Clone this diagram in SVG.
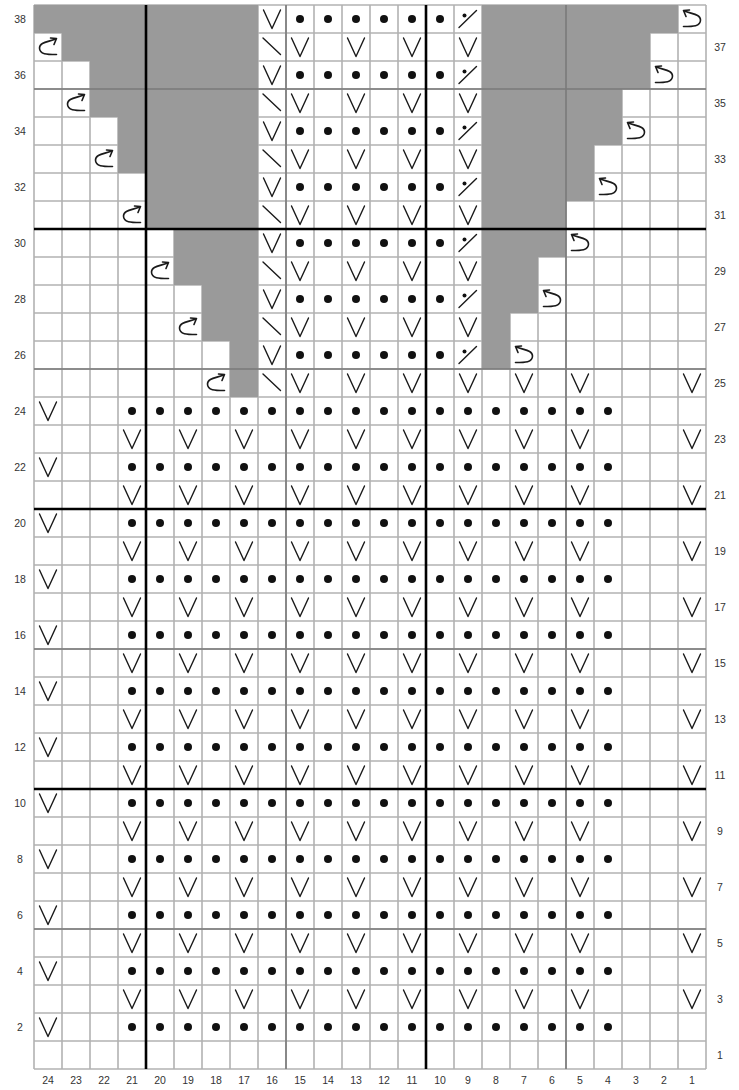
<svg xmlns="http://www.w3.org/2000/svg" xmlns:xlink="http://www.w3.org/1999/xlink" width="739" height="1090" viewBox="0 0 739 1090">
<style>
.s{fill:none;stroke:#1a1a1a;stroke-width:1.4;stroke-linecap:round;stroke-linejoin:round}
.a{fill:none;stroke:#1a1a1a;stroke-width:1.6;stroke-linecap:round;stroke-linejoin:round}
.f{fill:#111}
.thin{fill:none;stroke:#b2b2b2;stroke-width:1.6}
.five{fill:none;stroke:#7a7a7a;stroke-width:1.6}
.ten{fill:none;stroke:#000;stroke-width:2.6}
.gray{fill:#9a9a9a}
.lbl{font-family:"Liberation Sans",Arial,sans-serif;font-size:10.5px;fill:#333;text-anchor:middle}
</style>
<defs>
<path id="v" class="s" d="M5.5 5L14 23.5L22.5 5"/>
<circle id="dot" class="f" cx="14" cy="14" r="4"/>
<path id="bk" class="s" d="M5 5L22.5 21.5"/>
<g id="sd"><path class="s" d="M5 22.5L22.5 5.5"/><circle class="f" cx="10.5" cy="10.5" r="2"/></g>
<path id="cw" class="a" d="M22.5 5.5C16 9 5.5 8.5 5.5 15C5.5 21.5 13 21.5 22.5 21.5M16.5 5L22.5 5.5L20 11.5"/>
<g id="ccw"><use href="#cw" transform="matrix(-1 0 0 1 28 0)"/></g>
<g id="rowBE">
<use href="#v" x="34"/>
<use href="#dot" x="118"/><use href="#dot" x="146"/><use href="#dot" x="174"/><use href="#dot" x="202"/><use href="#dot" x="230"/><use href="#dot" x="258"/><use href="#dot" x="286"/><use href="#dot" x="314"/><use href="#dot" x="342"/><use href="#dot" x="370"/><use href="#dot" x="398"/><use href="#dot" x="426"/><use href="#dot" x="454"/><use href="#dot" x="482"/><use href="#dot" x="510"/><use href="#dot" x="538"/><use href="#dot" x="566"/><use href="#dot" x="594"/>
</g>
<g id="rowBO">
<use href="#v" x="118"/><use href="#v" x="174"/><use href="#v" x="230"/><use href="#v" x="286"/><use href="#v" x="342"/><use href="#v" x="398"/><use href="#v" x="454"/><use href="#v" x="510"/><use href="#v" x="566"/><use href="#v" x="678"/>
</g>
<g id="rowTE">
<use href="#v" x="258"/>
<use href="#dot" x="286"/><use href="#dot" x="314"/><use href="#dot" x="342"/><use href="#dot" x="370"/><use href="#dot" x="398"/><use href="#dot" x="426"/>
<use href="#sd" x="454"/>
</g>
<g id="rowTO">
<use href="#bk" x="258"/>
<use href="#v" x="286"/><use href="#v" x="342"/><use href="#v" x="398"/><use href="#v" x="454"/>
</g>
</defs>
<rect x="0" y="0" width="739" height="1090" fill="#fff"/>
<g id="grid-thin">
<path class="thin" d="M34 5V1069M62 5V1069M90 5V1069M118 5V1069M146 5V1069M174 5V1069M202 5V1069M230 5V1069M258 5V1069M286 5V1069M314 5V1069M342 5V1069M370 5V1069M398 5V1069M426 5V1069M454 5V1069M482 5V1069M510 5V1069M538 5V1069M566 5V1069M594 5V1069M622 5V1069M650 5V1069M678 5V1069M706 5V1069M34 5H706M34 33H706M34 61H706M34 89H706M34 117H706M34 145H706M34 173H706M34 201H706M34 229H706M34 257H706M34 285H706M34 313H706M34 341H706M34 369H706M34 397H706M34 425H706M34 453H706M34 481H706M34 509H706M34 537H706M34 565H706M34 593H706M34 621H706M34 649H706M34 677H706M34 705H706M34 733H706M34 761H706M34 789H706M34 817H706M34 845H706M34 873H706M34 901H706M34 929H706M34 957H706M34 985H706M34 1013H706M34 1041H706M34 1069H706"/>
</g>
<g id="no-stitch">
<polygon class="gray" points="34,5 258,5 258,397 230,397 230,341 202,341 202,285 174,285 174,229 146,229 146,173 118,173 118,117 90,117 90,61 62,61 62,33 34,33"/>
<polygon class="gray" points="482,5 678,5 678,33 650,33 650,89 622,89 622,145 594,145 594,201 566,201 566,257 538,257 538,313 510,313 510,369 482,369"/>
</g>
<g id="grid-major">
<path class="five" d="M286 5V1069M566 5V1069M34 89H706M34 369H706M34 649H706M34 929H706"/>
<path class="ten" d="M146 5V1069M426 5V1069M34 229H706M34 509H706M34 789H706"/>
</g>
<g id="stitches">
<use href="#rowTE" y="5"/><use href="#rowTE" y="61"/><use href="#rowTE" y="117"/><use href="#rowTE" y="173"/><use href="#rowTE" y="229"/><use href="#rowTE" y="285"/><use href="#rowTE" y="341"/>
<use href="#rowTO" y="33"/><use href="#rowTO" y="89"/><use href="#rowTO" y="145"/><use href="#rowTO" y="201"/><use href="#rowTO" y="257"/><use href="#rowTO" y="313"/><use href="#rowTO" y="369"/>
<use href="#v" x="510" y="369"/><use href="#v" x="566" y="369"/><use href="#v" x="678" y="369"/>
<use href="#rowBE" y="397"/><use href="#rowBE" y="453"/><use href="#rowBE" y="509"/><use href="#rowBE" y="565"/><use href="#rowBE" y="621"/><use href="#rowBE" y="677"/><use href="#rowBE" y="733"/><use href="#rowBE" y="789"/><use href="#rowBE" y="845"/><use href="#rowBE" y="901"/><use href="#rowBE" y="957"/><use href="#rowBE" y="1013"/>
<use href="#rowBO" y="425"/><use href="#rowBO" y="481"/><use href="#rowBO" y="537"/><use href="#rowBO" y="593"/><use href="#rowBO" y="649"/><use href="#rowBO" y="705"/><use href="#rowBO" y="761"/><use href="#rowBO" y="817"/><use href="#rowBO" y="873"/><use href="#rowBO" y="929"/><use href="#rowBO" y="985"/>
<use href="#cw" x="34" y="33"/><use href="#cw" x="62" y="89"/><use href="#cw" x="90" y="145"/><use href="#cw" x="118" y="201"/><use href="#cw" x="146" y="257"/><use href="#cw" x="174" y="313"/><use href="#cw" x="202" y="369"/>
<use href="#ccw" x="678" y="5"/><use href="#ccw" x="650" y="61"/><use href="#ccw" x="622" y="117"/><use href="#ccw" x="594" y="173"/><use href="#ccw" x="566" y="229"/><use href="#ccw" x="538" y="285"/><use href="#ccw" x="510" y="341"/>
</g>
<g id="row-labels-left" class="lbl">
<text x="20" y="22.5">38</text><text x="20" y="78.5">36</text><text x="20" y="134.5">34</text><text x="20" y="190.5">32</text><text x="20" y="246.5">30</text><text x="20" y="302.5">28</text><text x="20" y="358.5">26</text><text x="20" y="414.5">24</text><text x="20" y="470.5">22</text><text x="20" y="526.5">20</text><text x="20" y="582.5">18</text><text x="20" y="638.5">16</text><text x="20" y="694.5">14</text><text x="20" y="750.5">12</text><text x="20" y="806.5">10</text><text x="20" y="862.5">8</text><text x="20" y="918.5">6</text><text x="20" y="974.5">4</text><text x="20" y="1030.5">2</text>
</g>
<g id="row-labels-right" class="lbl">
<text x="720" y="50.5">37</text><text x="720" y="106.5">35</text><text x="720" y="162.5">33</text><text x="720" y="218.5">31</text><text x="720" y="274.5">29</text><text x="720" y="330.5">27</text><text x="720" y="386.5">25</text><text x="720" y="442.5">23</text><text x="720" y="498.5">21</text><text x="720" y="554.5">19</text><text x="720" y="610.5">17</text><text x="720" y="666.5">15</text><text x="720" y="722.5">13</text><text x="720" y="778.5">11</text><text x="720" y="834.5">9</text><text x="720" y="890.5">7</text><text x="720" y="946.5">5</text><text x="720" y="1002.5">3</text><text x="720" y="1058.5">1</text>
</g>
<g id="col-labels" class="lbl">
<text x="48" y="1084">24</text><text x="76" y="1084">23</text><text x="104" y="1084">22</text><text x="132" y="1084">21</text><text x="160" y="1084">20</text><text x="188" y="1084">19</text><text x="216" y="1084">18</text><text x="244" y="1084">17</text><text x="272" y="1084">16</text><text x="300" y="1084">15</text><text x="328" y="1084">14</text><text x="356" y="1084">13</text><text x="384" y="1084">12</text><text x="412" y="1084">11</text><text x="440" y="1084">10</text><text x="468" y="1084">9</text><text x="496" y="1084">8</text><text x="524" y="1084">7</text><text x="552" y="1084">6</text><text x="580" y="1084">5</text><text x="608" y="1084">4</text><text x="636" y="1084">3</text><text x="664" y="1084">2</text><text x="692" y="1084">1</text>
</g>
</svg>
